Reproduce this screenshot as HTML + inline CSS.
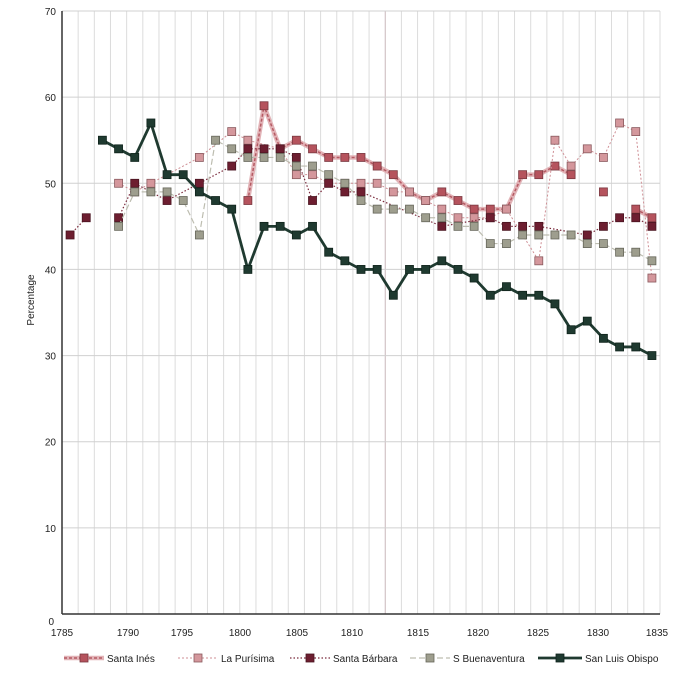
<!DOCTYPE html>
<html><head><meta charset="utf-8"><style>
body{margin:0;background:#fff;}
svg{display:block;font-family:"Liberation Sans",Arial,sans-serif;}
</style></head><body>
<svg id="chart" width="675" height="685" viewBox="0 0 675 685">
<g id="grid"></g>
<g id="series"></g>
<g id="axes"></g>
<text x="34" y="300" font-size="10" text-anchor="middle" transform="rotate(-90 34 300)" fill="#222">Percentage</text>
<g id="legend"></g>
</svg>
<script>
const categories = Array.from({length:37},(_, i)=>i);
const santaInes = [null,null,null,null,null,null,null,null,null,null,null,48,59,54,55,54,53,53,53,52,51,49,48,49,48,47,47,47,51,51,52,51,null,49,null,47,46];
const laPurisima = [null,null,null,50,49,50,null,null,53,null,56,55,null,54,51,51,50,50,50,50,49,49,48,47,46,46,46,47,null,41,55,52,54,53,57,56,39];
const santaBarbara = [44,46,null,46,50,null,48,null,50,null,52,54,54,54,53,48,50,49,49,null,null,null,null,45,null,null,46,45,45,45,null,null,44,45,46,46,45];
const sBuenaventura = [null,null,null,45,49,49,49,48,44,55,54,53,53,53,52,52,51,50,48,47,47,47,46,46,45,45,43,43,44,44,44,44,43,43,42,42,41];
const sanLuisObispo = [null,null,55,54,53,57,51,51,49,48,47,40,45,45,44,45,42,41,40,40,37,40,40,41,40,39,37,38,37,37,36,33,34,32,31,31,30];
const yTicks = [0,10,20,30,40,50,60,70];
const xTickLabels = ["1785","1790","1795","1800","1805","1810","1815","1820","1825","1830","1835"];
const xTickPos = [62,128,182,240,297,352,418,478,538,598,657];

const X0=62, X1=660, Y0=614, Y70=11;
const band=(X1-X0)/categories.length;
const xs=i=>X0+band*(i+0.5);
const ys=v=>Y0-(v/70)*(Y0-Y70);
const NS="http://www.w3.org/2000/svg";
function mk(tag,attrs,parent){const e=document.createElementNS(NS,tag);for(const k in attrs)e.setAttribute(k,attrs[k]);parent.appendChild(e);return e;}
const grid=document.getElementById('grid'),axes=document.getElementById('axes'),ser=document.getElementById('series'),leg=document.getElementById('legend');
for(let i=1;i<=categories.length;i++){const x=X0+band*i;
 const l=mk('line',{x1:x,x2:x,y1:Y70,y2:Y0,stroke:i===20?'#c9b8bb':'#dcdcdc','stroke-width':1},grid);
 
 }
yTicks.forEach(v=>{const y=ys(v);
 if(v>0){const l=mk('line',{x1:X0,x2:X1,y1:y,y2:y,stroke:'#d0d0d0','stroke-width':1},grid);
 
 }
 const t=mk('text',{x:v===0?54:56,y:v===0?y+11:y+4,'font-size':10,'text-anchor':'end',fill:'#222'},axes);t.textContent=v;
 
 });
mk('line',{x1:X0,x2:X0,y1:Y70,y2:Y0,stroke:'#333','stroke-width':1.5},axes);
mk('line',{x1:X0,x2:X1,y1:Y0,y2:Y0,stroke:'#333','stroke-width':1.5},axes);
xTickLabels.forEach((s,i)=>{const t=mk('text',{x:xTickPos[i],y:636,'font-size':10,'text-anchor':'middle',fill:'#222'},axes);t.textContent=s;
 
 });

const series=[
 {name:'santa-ines',label:'Santa Inés',data:santaInes,span:false,brk:[],lines:[{stroke:'#e2b3b7',w:4.5,d:''},{stroke:'#b55a63',w:1.5,d:'3 2'}],fill:'#b5535d',ms:'#7a3840'},
 {name:'la-purisima',label:'La Purísima',data:laPurisima,span:true,brk:[],lines:[{stroke:'#cf8f95',w:1,d:'2 2'}],fill:'#d4979c',ms:'#8a5a5e'},
 {name:'santa-barbara',label:'Santa Bárbara',data:santaBarbara,span:true,brk:[3],lines:[{stroke:'#7a2a3c',w:1.2,d:'1.5 2'}],fill:'#6d1e30',ms:'#4a1420'},
 {name:'s-buenaventura',label:'S Buenaventura',data:sBuenaventura,span:true,brk:[],lines:[{stroke:'#bdbdb0',w:1.2,d:'6 3'}],fill:'#9e9e8e',ms:'#66665a'},
 {name:'san-luis-obispo',label:'San Luis Obispo',data:sanLuisObispo,span:false,brk:[],lines:[{stroke:'#1f3a30',w:2.8,d:''}],fill:'#1f3a30',ms:'#10241c'}
];
series.forEach(s=>{
 const g=mk('g',{},ser);
 
 
 const segs=[];let cur=[];
 s.data.forEach((v,i)=>{
  if(s.brk.includes(i)&&cur.length){segs.push(cur);cur=[];}
  if(v==null){if(!s.span&&cur.length){segs.push(cur);cur=[];}}else cur.push([xs(i),ys(v)]);});
 if(cur.length)segs.push(cur);
 s.lines.forEach(ls=>segs.forEach(seg=>{if(seg.length<2)return;
  const p=mk('polyline',{points:seg.map(q=>q.join(',')).join(' '),fill:'none',stroke:ls.stroke,'stroke-width':ls.w,'stroke-dasharray':ls.d,'stroke-linejoin':'round'},g);
  
  }));
 s.data.forEach((v,i)=>{if(v==null)return;
  const r=mk('rect',{x:xs(i)-4,y:ys(v)-4,width:8,height:8,fill:s.fill,stroke:s.ms,'stroke-width':0.8},g);
  
  });
});
const legX=[64,178,290,410,538];
series.forEach((s,k)=>{
 const x=legX[k],y=658;
 const g=mk('g',{},leg);
 
 
 const len=k===4?44:40;
 s.lines.forEach(ls=>mk('line',{x1:x,x2:x+len,y1:y,y2:y,stroke:ls.stroke,'stroke-width':ls.w,'stroke-dasharray':ls.d},g));
 mk('rect',{x:x+len/2-4,y:y-4,width:8,height:8,fill:s.fill,stroke:s.ms,'stroke-width':0.8},g);
 const t=mk('text',{x:x+len+3,y:y+4,'font-size':10,fill:'#222'},g);t.textContent=s.label;
});
</script>
</body></html>
